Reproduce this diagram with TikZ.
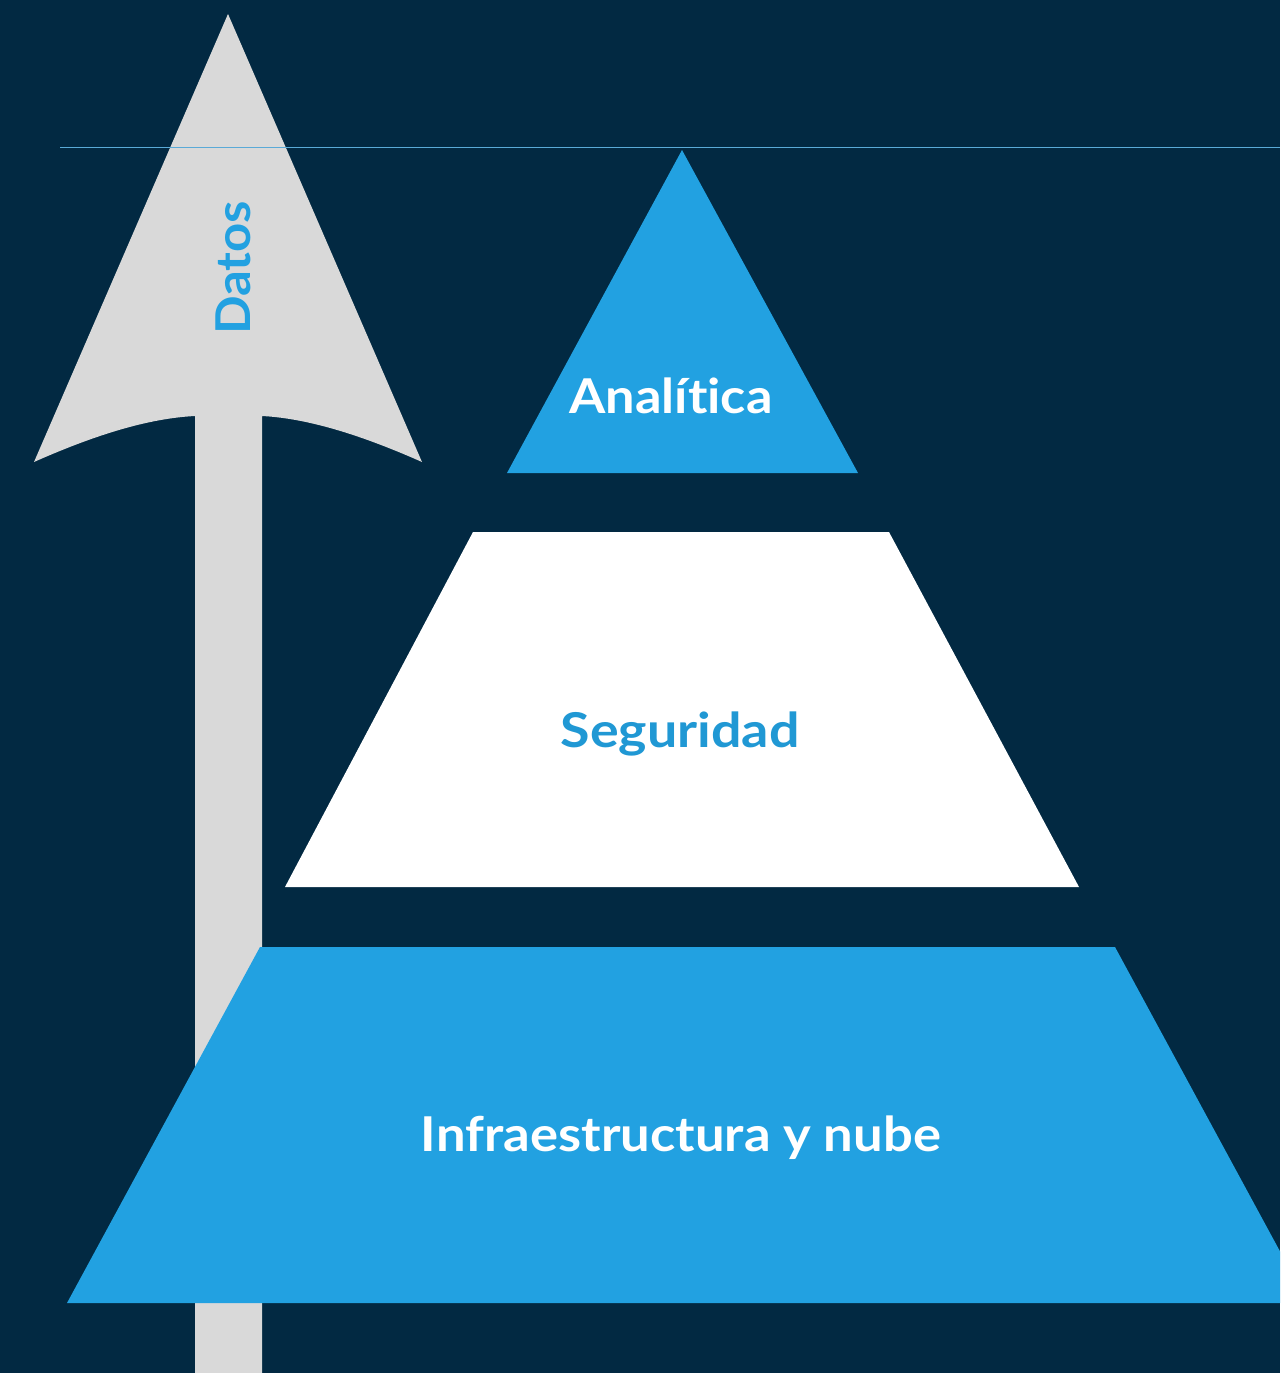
\documentclass[tikz,border=0pt]{standalone}
\usepackage{fontspec}
\setmainfont{Lato}[Ligatures={NoCommon,TeX}]
\definecolor{navy}{RGB}{2,41,66}
\definecolor{skyblue}{RGB}{34,161,225}
\definecolor{textblue}{RGB}{32,152,212}
\definecolor{arrowgray}{RGB}{217,217,217}
\definecolor{rulecol}{RGB}{90,170,215}
\tikzset{
  layerlabel/.style={font=\bfseries\fontsize{48}{56}\selectfont, inner sep=0pt, anchor=base},
}
\newcommand{\wide}[2]{\scalebox{#1}[1]{#2}}
\begin{document}
\begin{tikzpicture}[x=1pt,y=-1pt]
\useasboundingbox (0,0) rectangle (1280,1373);
\fill[navy] (0,0) rectangle (1280,1373);
% arrow
\fill[arrowgray] (228,14) -- (422,462)
  .. controls (350,430) and (300,418) .. (262,416) -- (262,1373) -- (195,1373) -- (195,416)
  .. controls (156,418) and (106,430) .. (34,462) -- cycle;
\node[layerlabel, anchor=center, rotate=90, text=skyblue] (datos) at (233,268) {\wide{1.06}{Datos}};
% rule
\draw[rulecol, line width=1pt] (60,147) -- (1280,147);
% top triangle
\fill[skyblue] (682,150) -- (858,473) -- (507,473) -- cycle;
\node[layerlabel, text=white] (analitica) at (671,413) {\wide{1.09}{Analítica}};
% middle trapezoid
\fill[white] (473,532) -- (889,532) -- (1079,887) -- (285,887) -- cycle;
\node[layerlabel, text=textblue] (seguridad) at (680,747) {\wide{1.12}{Seguridad}};
% bottom trapezoid
\begin{scope}
\clip (0,0) rectangle (1280,1373);
\fill[skyblue] (260,947) -- (1115,947) -- (1308,1303) -- (67,1303) -- cycle;
\end{scope}
\node[layerlabel, text=white] (infra) at (681,1151) {\wide{1.095}{Infraestructura y nube}};
\end{tikzpicture}
\end{document}
